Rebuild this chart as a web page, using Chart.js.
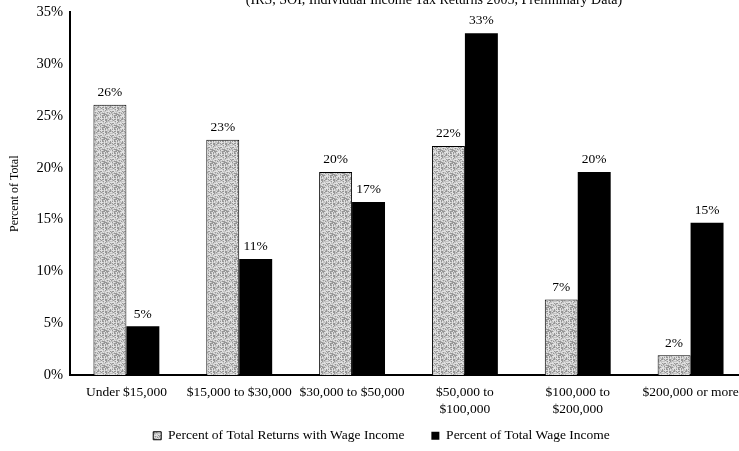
<!DOCTYPE html>
<html>
<head>
<meta charset="utf-8">
<script src="https://cdn.jsdelivr.net/npm/chart.js@4.4.1/dist/chart.umd.min.js"></script>
<style>
  html, body { margin: 0; padding: 0; background: #fff; overflow: hidden; width: 739px; height: 451px; }
  #wrap { position: absolute; left: 0; top: 0; width: 760px; height: 451px; }
  #ttl { position: absolute; left: 0; width: 868px; top: -7px; text-align: center; font: 14px "Liberation Serif", serif; line-height: 14px; color: #000; white-space: nowrap; }
</style>
</head>
<body>
<div id="wrap"><canvas id="c"></canvas></div>
<div id="ttl">(IRS, SOI, Individual Income Tax Returns 2005, Preliminary Data)</div>
<script>
const categories = [
  "Under $15,000",
  "$15,000 to $30,000",
  "$30,000 to $50,000",
  ["$50,000 to", "$100,000"],
  ["$100,000 to", "$200,000"],
  "$200,000 or more"
];
const returnsWithWage = [26.1, 22.7, 19.6, 22.1, 7.3, 1.9];
const totalWageIncome = [4.7, 11.2, 16.7, 33.0, 19.6, 14.7];
const seriesNames = ["Percent of Total Returns with Wage Income", "Percent of Total Wage Income"];
const yTicks = [0, 5, 10, 15, 20, 25, 30, 35];

// mottled grey texture for the light bars (fixed hash, no randomness)
function makePattern() {
  const n = 12;
  const p = document.createElement('canvas');
  p.width = n; p.height = n;
  const g = p.getContext('2d');
  const img = g.createImageData(n, n);
  for (let y = 0; y < n; y++) {
    for (let x = 0; x < n; x++) {
      const h = ((x * 73856093) ^ (y * 19349663) ^ ((x + y) * 83492791)) >>> 0;
      const lv = [150, 175, 195, 210, 225, 240][h % 6];
      const k = (y * n + x) * 4;
      img.data[k] = img.data[k + 1] = img.data[k + 2] = lv;
      img.data[k + 3] = 255;
    }
  }
  g.putImageData(img, 0, 0);
  return g.createPattern(p, 'repeat');
}
const stipple = makePattern();

const serif = "'Liberation Serif', 'Times New Roman', serif";

const valueLabels = {
  id: 'valueLabels',
  afterDatasetsDraw(chart) {
    const ctx = chart.ctx;
    ctx.save();
    ctx.font = "13.5px " + serif;
    ctx.fillStyle = '#000';
    ctx.textAlign = 'center';
    ctx.textBaseline = 'bottom';
    chart.data.datasets.forEach((ds, di) => {
      const meta = chart.getDatasetMeta(di);
      meta.data.forEach((bar, i) => {
        ctx.fillText(Math.round(ds.data[i]) + '%', bar.x, bar.y - 5.5);
      });
    });
    ctx.restore();
  }
};

const legendShift = {
  id: 'legendShift',
  afterLayout(chart) {
    const lg = chart.legend;
    if (lg) { lg.left += 8; lg.right += 8; lg.top -= 18; lg.bottom -= 18; }
  }
};

new Chart(document.getElementById('c'), {
  type: 'bar',
  data: {
    labels: categories,
    datasets: [
      {
        label: seriesNames[0],
        data: returnsWithWage,
        backgroundColor: stipple,
        borderColor: '#000',
        borderWidth: 1,
        borderSkipped: 'bottom'
      },
      {
        label: seriesNames[1],
        data: totalWageIncome,
        backgroundColor: '#000',
        borderColor: '#000',
        borderWidth: 0
      }
    ]
  },
  options: {
    responsive: true,
    maintainAspectRatio: false,
    animation: false,
    layout: { padding: { top: 1.5, right: 13, left: 0, bottom: -19.5 } },
    datasets: { bar: { barPercentage: 1.0, categoryPercentage: 0.584 } },
    scales: {
      x: {
        grid: { display: false, drawTicks: false },
        border: { display: true, color: '#000', width: 2 },
        ticks: { color: '#000', font: { family: serif, size: 13.5, lineHeight: 1.25 }, maxRotation: 0, autoSkip: false, padding: 9 },
        afterFit(scale) { scale.height = 45; }
      },
      y: {
        min: 0, max: 35,
        afterBuildTicks(scale) { scale.ticks = yTicks.map(v => ({ value: v })); },
        grid: { display: false, drawTicks: false },
        border: { display: true, color: '#000', width: 2 },
        ticks: { color: '#000', font: { family: serif, size: 14.5, lineHeight: 0.75 }, padding: 7, callback: v => v + '%' },
        title: { display: true, text: 'Percent of Total', color: '#000', font: { family: serif, size: 12 }, padding: { top: 8, bottom: 7 } }
      }
    },
    plugins: {
      legend: {
        position: 'bottom',
        labels: {
          color: '#000',
          font: { family: serif, size: 13.5 },
          boxWidth: 8, boxHeight: 8,
          padding: 27
        }
      },
      tooltip: { enabled: false }
    }
  },
  plugins: [valueLabels, legendShift]
});
</script>
</body>
</html>
